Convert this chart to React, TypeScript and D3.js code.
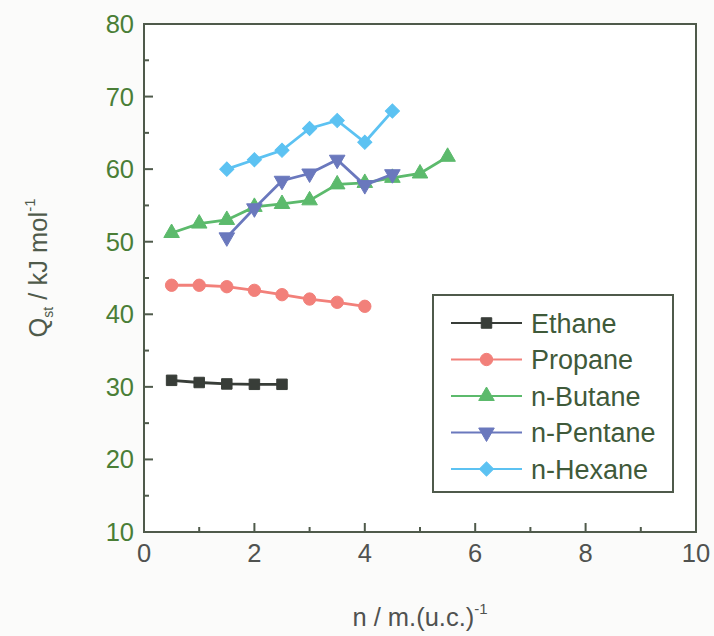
import React from "react";
import * as d3 from "d3";

// Isosteric heat of adsorption vs. loading for linear alkanes
const ethaneN = [0.5, 1, 1.5, 2, 2.5];
const ethaneQ = [30.9, 30.6, 30.4, 30.35, 30.35];

const propaneN = [0.5, 1, 1.5, 2, 2.5, 3, 3.5, 4];
const propaneQ = [44.0, 44.0, 43.8, 43.3, 42.7, 42.1, 41.65, 41.1];

const butaneN = [0.5, 1, 1.5, 2, 2.5, 3, 3.5, 4, 4.5, 5, 5.5];
const butaneQ = [51.2, 52.5, 53.0, 54.8, 55.2, 55.7, 57.9, 58.1, 58.8, 59.4, 61.7];

const pentaneN = [1.5, 2, 2.5, 3, 3.5, 4, 4.5];
const pentaneQ = [50.6, 54.6, 58.4, 59.4, 61.3, 57.8, 59.3];

const hexaneN = [1.5, 2, 2.5, 3, 3.5, 4, 4.5];
const hexaneQ = [60.0, 61.3, 62.6, 65.6, 66.7, 63.7, 68.0];

const seriesNames = ["Ethane", "Propane", "n-Butane", "n-Pentane", "n-Hexane"];
const seriesColors = ["#383d38", "#f2807a", "#5cba6c", "#6a78bd", "#5cc2f2"];
const seriesMarkers = ["square", "circle", "triangleUp", "triangleDown", "diamond"];

const xTicks = [0, 2, 4, 6, 8, 10];
const xMinorTicks = [1, 3, 5, 7, 9];
const yTicks = [10, 20, 30, 40, 50, 60, 70, 80];
const yMinorTicks = [15, 25, 35, 45, 55, 65, 75];

const W = 714;
const H = 636;
const plot = { left: 144, right: 696, top: 24, bottom: 532 };

const x = d3.scaleLinear().domain([0, 10]).range([plot.left, plot.right]);
const y = d3.scaleLinear().domain([10, 80]).range([plot.bottom, plot.top]);

const axisColor = "#4f5a4b";
const yLabelColor = "#4a7e36";
const xLabelColor = "#505250";
const font = "'Liberation Sans', Arial, sans-serif";

function markerPath(kind: string): { d: string; rotate: number } {
  switch (kind) {
    case "square":
      return { d: d3.symbol(d3.symbolSquare, 110)()!, rotate: 0 };
    case "circle":
      return { d: d3.symbol(d3.symbolCircle, 120)()!, rotate: 0 };
    case "triangleUp":
      return { d: d3.symbol(d3.symbolTriangle, 105)()!, rotate: 0 };
    case "triangleDown":
      return { d: d3.symbol(d3.symbolTriangle, 105)()!, rotate: 180 };
    default:
      return { d: d3.symbol(d3.symbolSquare, 100)()!, rotate: 45 };
  }
}

const Marker = ({ kind, cx, cy, color }: { kind: string; cx: number; cy: number; color: string }) => {
  const m = markerPath(kind);
  return (
    <path
      d={m.d}
      transform={`translate(${cx},${cy}) rotate(${m.rotate})`}
      fill={color}
      stroke={color}
      strokeWidth={1}
    />
  );
};

export default function App() {
  const series = [
    { n: ethaneN, q: ethaneQ },
    { n: propaneN, q: propaneQ },
    { n: butaneN, q: butaneQ },
    { n: pentaneN, q: pentaneQ },
    { n: hexaneN, q: hexaneQ },
  ];

  const line = d3
    .line<[number, number]>()
    .x((d) => x(d[0]))
    .y((d) => y(d[1]));

  const legend = { x0: 433, y0: 295, x1: 673, y1: 492, rowTop: 323, rowStep: 36.5 };

  return (
    <svg
      width={W}
      height={H}
      style={{ position: "absolute", left: 0, top: 0, background: "#fbfbfa" }}
      fontFamily={font}
    >
      <rect x={0} y={0} width={W} height={H} fill="#fbfbfa" />
      <rect
        x={plot.left}
        y={plot.top}
        width={plot.right - plot.left}
        height={plot.bottom - plot.top}
        fill="#ffffff"
      />

      {/* data series */}
      {series.map((s, i) => {
        const pts: [number, number][] = s.n.map((v, j) => [v, s.q[j]]);
        return (
          <g key={seriesNames[i]}>
            <path d={line(pts)!} fill="none" stroke={seriesColors[i]} strokeWidth={2.8} />
            {pts.map((p, j) => (
              <Marker key={j} kind={seriesMarkers[i]} cx={x(p[0])} cy={y(p[1])} color={seriesColors[i]} />
            ))}
          </g>
        );
      })}

      {/* frame */}
      <rect
        x={plot.left}
        y={plot.top}
        width={plot.right - plot.left}
        height={plot.bottom - plot.top}
        fill="none"
        stroke={axisColor}
        strokeWidth={2}
      />

      {/* x ticks */}
      {xTicks.map((t) => (
        <g key={`xt${t}`}>
          <line x1={x(t)} x2={x(t)} y1={plot.bottom} y2={plot.bottom - 9} stroke={axisColor} strokeWidth={2} />
          <text x={x(t)} y={plot.bottom + 30} textAnchor="middle" fontSize={25.5} fill={xLabelColor}>
            {t}
          </text>
        </g>
      ))}
      {xMinorTicks.map((t) => (
        <line key={`xm${t}`} x1={x(t)} x2={x(t)} y1={plot.bottom} y2={plot.bottom - 5} stroke={axisColor} strokeWidth={2} />
      ))}

      {/* y ticks */}
      {yTicks.map((t) => (
        <g key={`yt${t}`}>
          <line x1={plot.left} x2={plot.left + 9} y1={y(t)} y2={y(t)} stroke={axisColor} strokeWidth={2} />
          <text x={plot.left - 10} y={y(t) + 9} textAnchor="end" fontSize={25.5} fill={yLabelColor}>
            {t}
          </text>
        </g>
      ))}
      {yMinorTicks.map((t) => (
        <line key={`ym${t}`} x1={plot.left} x2={plot.left + 5} y1={y(t)} y2={y(t)} stroke={axisColor} strokeWidth={2} />
      ))}

      {/* axis titles */}
      <text x={420} y={626} textAnchor="middle" fontSize={25.5} fill={xLabelColor}>
        n / m.(u.c.)
        <tspan fontSize={15} dy={-12}>-1</tspan>
      </text>
      <text
        transform={`translate(47,${268}) rotate(-90)`}
        textAnchor="middle"
        fontSize={25.5}
        fill="#4f5a4b"
      >
        Q
        <tspan fontSize={14} dy={6}>st</tspan>
        <tspan dy={-6}> / kJ mol</tspan>
        <tspan fontSize={15} dy={-12}>-1</tspan>
      </text>

      {/* legend */}
      <rect
        x={legend.x0}
        y={legend.y0}
        width={legend.x1 - legend.x0}
        height={legend.y1 - legend.y0}
        fill="#ffffff"
        stroke={axisColor}
        strokeWidth={2}
      />
      {seriesNames.map((name, i) => {
        const cy = legend.rowTop + i * legend.rowStep;
        return (
          <g key={`lg${name}`}>
            <line x1={451} x2={522} y1={cy} y2={cy} stroke={seriesColors[i]} strokeWidth={2} />
            <Marker kind={seriesMarkers[i]} cx={486.5} cy={cy} color={seriesColors[i]} />
            <text x={531} y={cy + 9.5} fontSize={27} fill="#3f5a3a">
              {name}
            </text>
          </g>
        );
      })}
    </svg>
  );
}
